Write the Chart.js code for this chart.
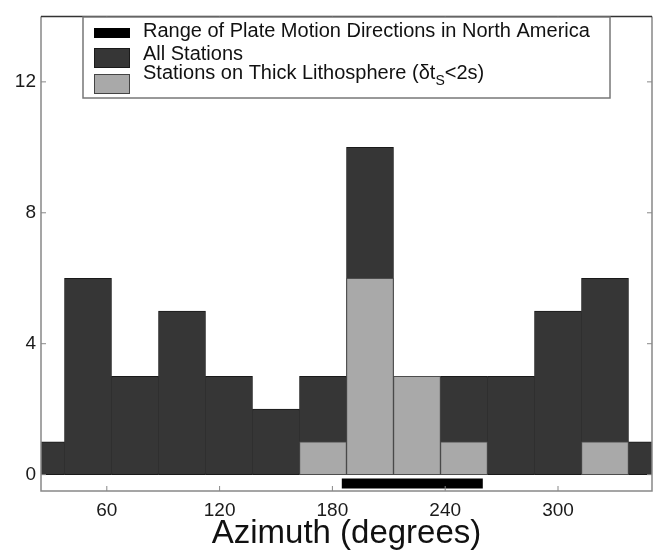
<!DOCTYPE html>
<html>
<head>
<meta charset="utf-8">
<script src="https://cdn.jsdelivr.net/npm/chart.js@4.4.0/dist/chart.umd.min.js"></script>
<style>
  html, body { margin: 0; padding: 0; background: #fff; }
  canvas { display: block; }
</style>
</head>
<body>
<canvas id="myChart" width="657" height="554"></canvas>
<script>
// 25 degree bins, centre of each bin
const azimuthBins = [25, 50, 75, 100, 125, 150, 175, 200, 225, 250, 275, 300, 325, 350];
const allStations = [1, 6, 3, 5, 3, 2, 3, 10, 3, 3, 3, 5, 6, 1];
const thickLithosphere = [0, 0, 0, 0, 0, 0, 1, 6, 3, 1, 0, 0, 1, 0];
const plateMotionRange = [185, 260];
const xTicks = [60, 120, 180, 240, 300];
const yTicks = [0, 4, 8, 12];
const legendLabels = [
    'Range of Plate Motion Directions in North America',
    'All Stations',
    'Stations on Thick Lithosphere (δt_S<2s)'
];

const rangeBarLevel = -0.27;
const darkGrey = '#363636';
const lightGrey = '#a9a9a9';
const fontFamily = '"Liberation Sans", Arial, Helvetica, sans-serif';

const framePlugin = {
    id: 'frame',
    afterDatasetsDraw(chart) {
        const {ctx, chartArea: a, scales: {x, y}} = chart;
        ctx.save();
        ctx.lineWidth = 1.5;
        ctx.strokeStyle = '#888';
        ctx.beginPath();
        ctx.moveTo(a.left, a.top);
        ctx.lineTo(a.left, a.bottom);
        ctx.lineTo(a.right, a.bottom);
        ctx.lineTo(a.right, a.top);
        ctx.stroke();
        ctx.strokeStyle = '#333';
        ctx.beginPath();
        ctx.moveTo(a.left, a.top);
        ctx.lineTo(a.right, a.top);
        ctx.stroke();
        // ticks point inwards on all four sides
        ctx.lineWidth = 1;
        ctx.strokeStyle = '#888';
        ctx.beginPath();
        xTicks.forEach(v => {
            const px = x.getPixelForValue(v);
            ctx.moveTo(px, a.bottom); ctx.lineTo(px, a.bottom - 5);
            ctx.moveTo(px, a.top); ctx.lineTo(px, a.top + 5);
        });
        yTicks.forEach(v => {
            const py = y.getPixelForValue(v);
            ctx.moveTo(a.left, py); ctx.lineTo(a.left + 5, py);
            ctx.moveTo(a.right, py); ctx.lineTo(a.right - 5, py);
        });
        ctx.stroke();
        ctx.restore();
    }
};

const legendBox = {
    id: 'legendBox',
    afterDraw(chart) {
        const ctx = chart.ctx;
        ctx.save();
        ctx.fillStyle = '#fff';
        ctx.fillRect(83, 17, 527, 81);
        ctx.lineWidth = 1.5;
        ctx.strokeStyle = '#777';
        ctx.strokeRect(83, 17, 527, 81);

        // swatches
        ctx.fillStyle = '#000';
        ctx.fillRect(94, 28, 36, 10);
        ctx.lineWidth = 1;
        ctx.fillStyle = darkGrey;
        ctx.strokeStyle = '#1a1a1a';
        ctx.fillRect(94, 48, 36, 20);
        ctx.strokeRect(94.5, 48.5, 35, 19);
        ctx.fillStyle = lightGrey;
        ctx.strokeStyle = '#444';
        ctx.fillRect(94, 74, 36, 20);
        ctx.strokeRect(94.5, 74.5, 35, 19);

        ctx.fillStyle = '#111';
        ctx.textBaseline = 'alphabetic';
        ctx.textAlign = 'left';
        const baselines = [37, 60, 79];
        legendLabels.forEach((txt, i) => {
            const parts = txt.split('_');
            let xPos = 143;
            ctx.font = '20px ' + fontFamily;
            ctx.fillText(parts[0], xPos, baselines[i]);
            if (parts.length > 1) {
                xPos += ctx.measureText(parts[0]).width;
                const sub = parts[1].charAt(0);
                ctx.font = '14px ' + fontFamily;
                ctx.fillText(sub, xPos, baselines[i] + 6);
                xPos += ctx.measureText(sub).width;
                ctx.font = '20px ' + fontFamily;
                ctx.fillText(parts[1].slice(1), xPos, baselines[i]);
            }
        });
        ctx.restore();
    }
};

const barDefaults = {
    grouped: false,
    barPercentage: 1,
    categoryPercentage: 1,
    borderWidth: 1,
    borderSkipped: false,
    clip: 0
};

let chart = document.getElementById('myChart').getContext('2d');
let myChart = new Chart(chart, {
    type: 'bar',
    data: {
        datasets: [
            {
                type: 'line',
                label: legendLabels[0],
                data: plateMotionRange.map(v => ({x: v, y: rangeBarLevel})),
                borderColor: '#000',
                borderWidth: 10,
                borderCapStyle: 'butt',
                pointRadius: 0
            },
            Object.assign({
                label: legendLabels[2],
                data: azimuthBins.map((b, i) => ({x: b, y: thickLithosphere[i] || null})),
                backgroundColor: lightGrey,
                borderColor: '#4d4d4d'
            }, barDefaults),
            Object.assign({
                label: legendLabels[1],
                data: azimuthBins.map((b, i) => ({x: b, y: allStations[i]})),
                backgroundColor: darkGrey,
                borderColor: '#1a1a1a'
            }, barDefaults)
        ]
    },
    options: {
        responsive: false,
        animation: false,
        layout: {padding: {top: 9, right: 5, left: 0, bottom: 0}},
        plugins: {
            legend: {display: false},
            tooltip: {enabled: false}
        },
        scales: {
            x: {
                type: 'linear',
                min: 25,
                max: 350,
                offset: false,
                grid: {display: false, drawTicks: false},
                border: {display: false},
                afterBuildTicks: s => { s.ticks = xTicks.map(v => ({value: v})); },
                afterFit: s => { s.height = 63; },
                ticks: {
                    font: {family: fontFamily, size: 19},
                    color: '#1a1a1a',
                    padding: 8,
                    maxRotation: 0,
                    autoSkip: false
                },
                title: {
                    display: true,
                    text: 'Azimuth (degrees)',
                    font: {family: fontFamily, size: 33},
                    color: '#111',
                    padding: {top: 0, bottom: 0}
                }
            },
            y: {
                min: -0.5,
                max: 14,
                grid: {display: false, drawTicks: false},
                border: {display: false},
                afterBuildTicks: s => { s.ticks = yTicks.map(v => ({value: v})); },
                afterFit: s => { s.width = 41; },
                ticks: {
                    font: {family: fontFamily, size: 19},
                    color: '#1a1a1a',
                    padding: 5
                }
            }
        }
    },
    plugins: [framePlugin, legendBox]
});
</script>
</body>
</html>
